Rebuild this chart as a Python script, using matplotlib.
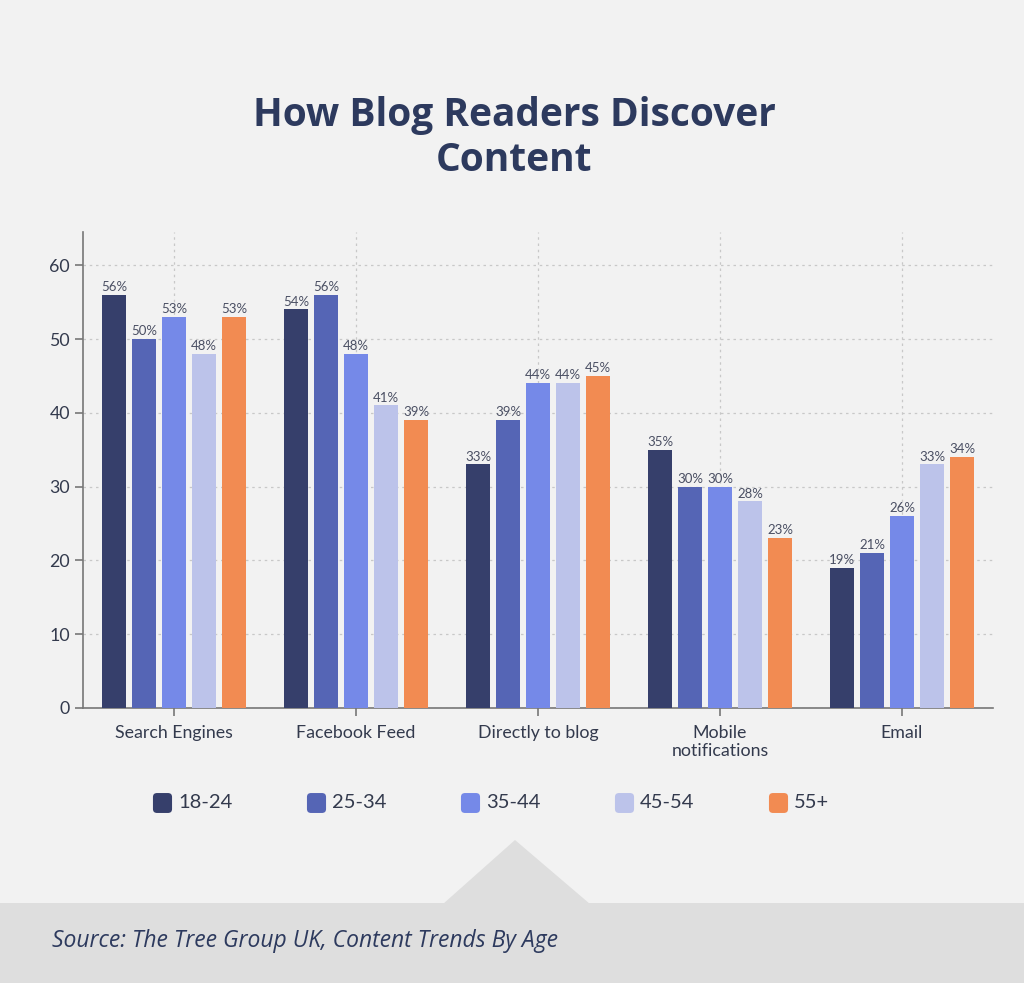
import matplotlib.pyplot as plt
import numpy as np
from matplotlib.patches import Polygon, Rectangle, FancyBboxPatch

categories = ["Search Engines", "Facebook Feed", "Directly to blog", "Mobile\nnotifications", "Email"]
age_groups = ["18-24", "25-34", "35-44", "45-54", "55+"]
values = {
    "18-24": [56, 54, 33, 35, 19],
    "25-34": [50, 56, 39, 30, 21],
    "35-44": [53, 48, 44, 30, 26],
    "45-54": [48, 41, 44, 28, 33],
    "55+":   [53, 39, 45, 23, 34],
}
colors = ["#363f6b", "#5565b5", "#7589e8", "#bcc3ea", "#f28b52"]

bg = "#f2f2f2"
navy = "#2d3a5e"
text_c = "#333a4d"
W, H = 1024, 983

fig = plt.figure(figsize=(W / 100, H / 100), dpi=100, facecolor=bg)

# bottom band and pointer triangle
fig.patches.append(Rectangle((0, 0), 1, (H - 903) / H, transform=fig.transFigure,
                             facecolor="#dedede", edgecolor="none", zorder=0))
fig.patches.append(Polygon([(443 / W, (H - 904) / H), (515 / W, (H - 840) / H), (590 / W, (H - 904) / H)],
                           closed=True, transform=fig.transFigure,
                           facecolor="#dedede", edgecolor="none", zorder=0))

fig.text(0.502, (H - 138) / H, "How Blog Readers Discover\nContent", ha="center", va="center",
         fontsize=28, fontweight="bold", color=navy, family="Open Sans", linespacing=1.2)

fig.text(52 / W, (H - 941) / H, "Source: The Tree Group UK, Content Trends By Age",
         ha="left", va="center", fontsize=16.5, style="italic", color=navy, family="Open Sans")

ax = fig.add_axes([83 / W, (H - 708) / H, 910 / W, (708 - 232) / H])
ax.set_facecolor(bg)

x = np.arange(len(categories)) + 0.5
bw = 24 / 182
step = 30 / 182
for i, g in enumerate(age_groups):
    pos = x + (i - 2) * step
    bars = ax.bar(pos, values[g], width=bw, color=colors[i], zorder=3)
    for b, v in zip(bars, values[g]):
        ax.text(b.get_x() + b.get_width() / 2, v + 0.25, f"{v}%", ha="center", va="bottom",
                fontsize=9.5, color="#4a4f63", family="Lato", zorder=4)

ax.set_xlim(0, 5)
ax.set_ylim(0, 64.5)
ax.set_yticks(range(0, 61, 10))
ax.set_xticks(x)
ax.set_xticklabels(categories, family="Lato", fontsize=12.8, color=text_c, linespacing=1.15)
for lab in ax.get_yticklabels():
    lab.set_family("Lato")
    lab.set_fontsize(12.8)
    lab.set_color(text_c)
ax.grid(True, linestyle=(0, (2, 3)), color="#c8c8c8", linewidth=0.9, zorder=0)
for s in ["top", "right"]:
    ax.spines[s].set_visible(False)
for s in ["left", "bottom"]:
    ax.spines[s].set_color("#777777")
    ax.spines[s].set_linewidth(1.2)
ax.tick_params(axis="both", color="#777777", length=6, width=1.2)
ax.tick_params(axis="x", pad=6)

# legend with evenly spaced entries
leg_y = H - 803
for i, (g, c) in enumerate(zip(age_groups, colors)):
    x0 = 153 + 154 * i
    fig.patches.append(FancyBboxPatch(((x0 + 2) / W, (leg_y - 8) / H), 15 / W, 16 / H,
                                      boxstyle="round,pad=0.002,rounding_size=0.004",
                                      transform=fig.transFigure, facecolor=c, edgecolor="none"))
    fig.text((x0 + 25) / W, leg_y / H, g, ha="left", va="center", fontsize=14.5,
             family="Lato", color=text_c)

fig.savefig("out.png", dpi=100, facecolor=bg)
